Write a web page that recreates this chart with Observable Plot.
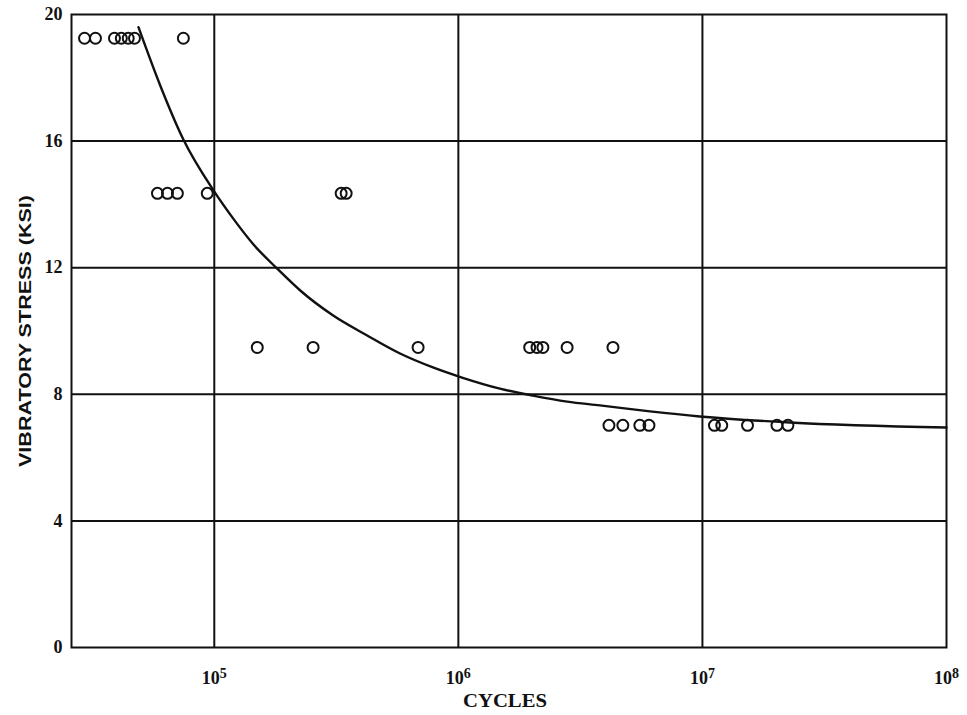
<!DOCTYPE html>
<html><head><meta charset="utf-8">
<script src="https://cdn.jsdelivr.net/npm/d3@7"></script>
<script src="https://cdn.jsdelivr.net/npm/@observablehq/plot@0.6"></script>
<style>
html,body{margin:0;padding:0;background:#fff;}
</style></head><body><div id="chart"></div>
<script>
// Test points, grouped by vibratory stress level (KSI)
const stressLevels = [19.25, 14.35, 9.48, 7.02];
const cyclesAt19 = [29400, 32600, 39000, 41600, 44400, 47100, 74700];
const cyclesAt14 = [58500, 64300, 70600, 93600, 331000, 347000];
const cyclesAt9 = [150000, 254000, 684000, 1960000, 2100000, 2220000, 2790000, 4300000];
const cyclesAt7 = [4140000, 4720000, 5540000, 6040000, 11200000, 12000000, 15300000, 20200000, 22400000];

// Fitted S-N curve
const curveCycles = [48900, 60100, 74700, 99100, 119600, 144500, 181000, 225000, 307000, 423000, 577000, 787000, 1035000, 1480000, 2020000, 2790000, 3800000, 6100000, 9750000, 22800000, 100000000];
const curveStress = [19.6, 17.75, 16.05, 14.45, 13.55, 12.74, 11.97, 11.28, 10.49, 9.86, 9.29, 8.85, 8.53, 8.18, 7.96, 7.77, 7.65, 7.46, 7.30, 7.11, 6.95];

// Axis ticks
const xTicks = [1e5, 1e6, 1e7, 1e8];
const xGrid = [1e5, 1e6, 1e7];
const yTicks = [0, 4, 8, 12, 16, 20];
const yGrid = [4, 8, 12, 16];
const xLabel = "CYCLES";
const yLabel = "VIBRATORY STRESS (KSI)";

const groups = [cyclesAt19, cyclesAt14, cyclesAt9, cyclesAt7];
const points = groups.flatMap((arr, i) => arr.map(c => ({cycles: c, stress: stressLevels[i]})));
const curve = curveCycles.map((c, i) => ({cycles: c, stress: curveStress[i]}));

const ink = "#111";
const serif = "'Liberation Serif', 'DejaVu Serif', serif";

const svg = Plot.plot({
  width: 967,
  height: 715,
  marginLeft: 71,
  marginRight: 21,
  marginTop: 14,
  marginBottom: 68,
  style: {background: "#fff", color: ink, fontFamily: serif, overflow: "visible"},
  x: {type: "log", domain: [26000, 1e8]},
  y: {domain: [0, 20]},
  marks: [
    Plot.gridX(xGrid, {stroke: ink, strokeOpacity: 1, strokeWidth: 2}),
    Plot.gridY(yGrid, {stroke: ink, strokeOpacity: 1, strokeWidth: 2}),
    Plot.frame({stroke: ink, strokeWidth: 2}),
    Plot.axisY(yTicks, {tickSize: 0, tickPadding: 9, fontSize: 19, fontWeight: "bold", fontFamily: serif, label: null, tickFormat: d => String(d)}),
    Plot.axisX(xTicks, {tickSize: 0, tickPadding: 24, fontSize: 19, fontWeight: "bold", fontFamily: serif, label: null, tickFormat: d => String(Math.round(Math.log10(d)))}),
    Plot.line(curve, {x: "cycles", y: "stress", curve: "monotone-x", stroke: ink, strokeWidth: 2.4}),
    Plot.dot(points, {x: "cycles", y: "stress", r: 5.5, stroke: ink, strokeWidth: 2, fill: "none"})
  ]
});

const s = d3.select(svg);
// Enforce tick label font
s.selectAll('g[aria-label="y-axis tick label"] text')
  .attr("font-size", 18).attr("font-weight", "bold").attr("font-family", serif).attr("fill", ink);
// Render x tick labels as 10 with superscript exponent
s.selectAll('g[aria-label="x-axis tick label"] text').each(function() {
  const t = d3.select(this);
  const e = t.text();
  t.text(null);
  t.attr("font-size", 18).attr("font-weight", "bold").attr("font-family", serif).attr("fill", ink);
  t.append("tspan").text("10");
  t.append("tspan").attr("dy", "-0.45em").attr("font-size", 14).text(e);
});

s.append("text")
  .attr("x", 505).attr("y", 707)
  .attr("text-anchor", "middle")
  .attr("font-family", serif).attr("font-weight", "bold").attr("font-size", 18)
  .attr("fill", ink)
  .attr("textLength", 84).attr("lengthAdjust", "spacingAndGlyphs")
  .text(xLabel);
s.append("text")
  .attr("transform", "translate(25,331) rotate(-90)")
  .attr("text-anchor", "middle").attr("dy", "0.35em")
  .attr("font-family", "'Liberation Sans', 'DejaVu Sans', sans-serif").attr("font-weight", "bold").attr("font-size", 17)
  .attr("fill", ink)
  .attr("textLength", 272).attr("lengthAdjust", "spacingAndGlyphs")
  .text(yLabel);

document.getElementById("chart").appendChild(svg);
</script>
</body></html>
